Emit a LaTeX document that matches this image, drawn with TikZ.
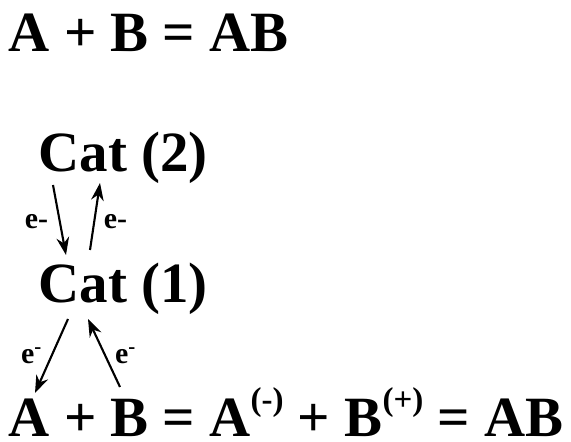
\documentclass[tikz,border=0pt]{standalone}
\usepackage{fontspec}
\setmainfont{Liberation Serif}
\usetikzlibrary{arrows.meta}

\newcommand{\chg}[1]{\raisebox{7.6pt}{\fontsize{9.4}{10}\selectfont #1}}

\tikzset{
    eqn/.style={anchor=base west, inner sep=0pt, font=\fontsize{16.2}{19}\selectfont\bfseries},
    elab/.style={inner sep=0pt, font=\fontsize{8.5}{10}\selectfont\bfseries},
    etrans/.style={-{Stealth[length=5pt,width=3.6pt]}, line width=0.6pt}
}

\begin{document}
\begin{tikzpicture}
    \useasboundingbox (0,0) rectangle (5.71,4.42);
    % equations and catalyst levels
    \node[eqn] (direct) at (0.08,3.90) {A + B = AB};
    \node[eqn] (cat2) at (0.38,2.70) {Cat (2)};
    \node[eqn] (cat1) at (0.38,1.39) {Cat (1)};
    \node[eqn] (path) at (0.08,0.05) {A + B = A\chg{(-)} + B\chg{(+)} = AB};
    % arrow ends
    \coordinate (c2out) at (0.53,2.57);
    \coordinate (c1in) at (0.66,1.87);
    \coordinate (c1out) at (0.90,1.92);
    \coordinate (c2in) at (1.00,2.59);
    \coordinate (c1down) at (0.68,1.23);
    \coordinate (toA) at (0.35,0.49);
    \coordinate (fromB) at (1.20,0.55);
    \coordinate (c1up) at (0.88,1.23);
    % electron transfers
    \draw[etrans] (c2out) -- (c1in);
    \draw[etrans] (c1out) -- (c2in);
    \draw[etrans] (c1down) -- (toA);
    \draw[etrans] (fromB) -- (c1up);
    \node[elab] (e1) at (0.365,2.20) {e-};
    \node[elab] (e2) at (1.155,2.20) {e-};
    \node[elab] (e3) at (0.32,0.86) {e\textsuperscript{-}};
    \node[elab] (e4) at (1.26,0.86) {e\textsuperscript{-}};
\end{tikzpicture}
\end{document}
